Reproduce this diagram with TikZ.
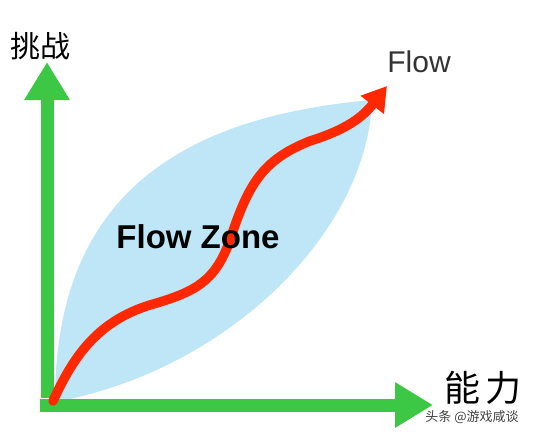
\documentclass[tikz,border=0pt]{standalone}
\usepackage{fontspec}
\setmainfont{Liberation Sans}
\newfontfamily\cjk{Noto Sans CJK SC}
\usetikzlibrary{arrows.meta}
\definecolor{axisgreen}{RGB}{60,200,68}
\definecolor{flowred}{RGB}{255,40,0}
\definecolor{zoneblue}{RGB}{190,230,246}
\tikzset{
  axis/.style={axisgreen,line width=13pt,-{Triangle[width=43pt,length=38pt]}},
  flowline/.style={flowred,line width=9.5pt,line cap=round,-{Triangle[width=28pt,length=24pt]}},
  lbl/.style={inner sep=0pt,text=black}
}
\begin{document}
\begin{tikzpicture}[x=1pt,y=-1pt]%flow zone chart
\useasboundingbox (0,0) rectangle (535,436);
\coordinate (O) at (47,405);
\coordinate (ytip) at (47,62);
\coordinate (xtip) at (433,405);
\coordinate (start) at (53,401);
\coordinate (ftip) at (387,86);
\fill[zoneblue] (55,402) .. controls (55,230) and (140,120) .. (372,100)
  .. controls (368,230) and (230,370) .. (55,402);
\draw[axis] ([yshift=7pt]O) -- (ytip);
\draw[axis] ([xshift=-7pt]O) -- (xtip);
\draw[flowline] (start) .. controls (72,360) and (95,322) .. (150,305)
  .. controls (195,292) and (215,282) .. (230,240)
  .. controls (248,185) and (262,160) .. (310,141)
  .. controls (345,130) and (362,118) .. (ftip);
\node[lbl] (challenge) at (40,46){\cjk\fontsize{30}{30}\selectfont 挑战};
\node[lbl] (ability) at (483,388){\cjk\fontsize{36}{36}\selectfont 能\,力};
\node[lbl,text=black!80] (flow) at (419,62){\fontsize{30}{30}\selectfont Flow};
\node[lbl] (zone) at (198,237){\fontsize{33}{33}\selectfont\bfseries Flow Zone};
\node[lbl,text=black!75] (mark) at (472,417){\cjk\fontsize{13}{13}\selectfont 头条 @游戏咸谈};
\end{tikzpicture}
\end{document}
